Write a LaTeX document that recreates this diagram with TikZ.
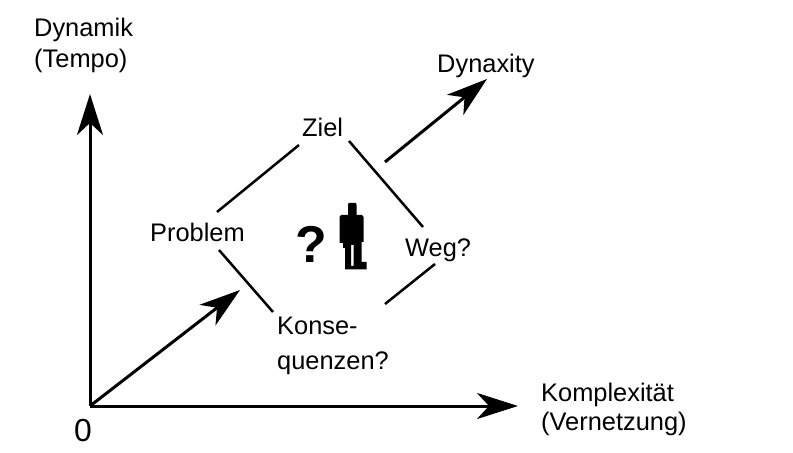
\documentclass[tikz,border=0pt]{standalone}
\usepackage{fontspec}
\setmainfont{Liberation Sans}
\usetikzlibrary{arrows.meta}
\tikzset{
  lbl/.style={font=\fontsize{25.5}{30}\selectfont, inner sep=0pt, anchor=base west},
  axisarrow/.style={line width=3bp, -{Stealth[length=41bp,width=26bp,inset=12bp]}},
  diamondline/.style={line width=2.5bp}
}
\begin{document}
\begin{tikzpicture}[x=1bp,y=-1bp]
\useasboundingbox (0,0) rectangle (793,453);
% coordinates
\coordinate (O) at (90,406);
\coordinate (Ytip) at (90,94);
\coordinate (Xtip) at (518,406);
\coordinate (Dtip) at (240,290);
\coordinate (DXs) at (385,162);
\coordinate (DXt) at (487,79);
\coordinate (pz1) at (217,212);
\coordinate (pz2) at (299,145);
\coordinate (zw1) at (349,141);
\coordinate (zw2) at (423,227);
\coordinate (pk1) at (219,250);
\coordinate (pk2) at (273,312);
\coordinate (wk1) at (435,264);
\coordinate (wk2) at (385,304);
% labels
\node[lbl] (dyn) at (34,37) {Dynamik};
\node[lbl] (tempo) at (34,68) {(Tempo)};
\node[lbl] (dynax) at (437,73) {Dynaxity};
\node[lbl] (ziel) at (302,137) {Ziel};
\node[lbl] (problem) at (150,242) {Problem};
\node[lbl] (weg) at (405,257) {Weg?};
\node[lbl] (konse) at (277,335) {Konse-};
\node[lbl] (quenzen) at (277,370) {quenzen?};
\node[lbl] (kompl) at (541,401) {Komplexität};
\node[lbl] (vernetz) at (541,430) {(Vernetzung)};
\node[lbl, font=\fontsize{32}{36}\selectfont] (zero) at (74,441) {0};
\node[lbl, font=\fontsize{52}{56}\selectfont\bfseries] (qm) at (295,263) {?};
% axes and arrows
\draw[axisarrow] (O) -- (Ytip);
\draw[axisarrow] (O) -- (Xtip);
\draw[axisarrow] (O) -- (Dtip);
\draw[axisarrow] (DXs) -- (DXt);
% diamond
\draw[diamondline] (pz1) -- (pz2);
\draw[diamondline] (zw1) -- (zw2);
\draw[diamondline] (pk1) -- (pk2);
\draw[diamondline] (wk1) -- (wk2);
% person
\fill[black, even odd rule]
  (348.5,203) -- (356,203) -- (356.5,205) -- (356.5,215) -- (362,215) -- (363.5,217)
  -- (363.5,242) -- (361.5,242) -- (361.5,262) -- (366.5,262) -- (366.5,269.5)
  -- (345,269.5) -- (345,248) -- (343,248) -- (343,243) -- (339.5,243)
  -- (339.5,217) -- (341,215) -- (348,215) -- (348,205) -- cycle
  (351,245) rectangle (353.7,266);
\end{tikzpicture}
\end{document}
